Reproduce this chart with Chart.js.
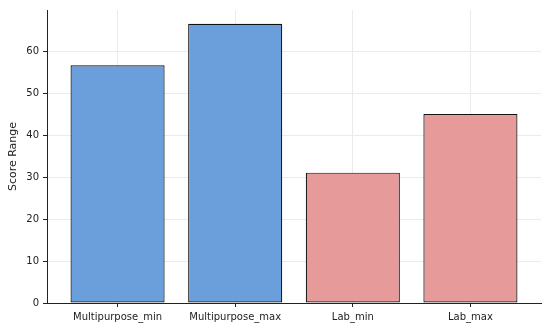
<!DOCTYPE html>
<html>
<head>
<meta charset="utf-8">
<script src="https://cdn.jsdelivr.net/npm/chart.js@4/dist/chart.umd.min.js"></script>
<style>
  html, body { margin: 0; padding: 0; background: #fff; }
  #wrap { width: 550px; height: 329px; }
</style>
</head>
<body>
<div id="wrap"><canvas id="bar-canvas" width="550" height="329"></canvas></div>
<script>
const categories = ["Multipurpose_min", "Multipurpose_max", "Lab_min", "Lab_max"]
const scores = [56.7, 66.6, 31.1, 45.1]
const barColors = ["#6a9fdc", "#6a9fdc", "#e69a9a", "#e69a9a"]
const yTicks = [0, 10, 20, 30, 40, 50, 60]

const points = scores.map((v, i) => ({ x: i, y: v }))
const font = { family: "'DejaVu Sans', sans-serif", size: 10 }

const barCanvas = document.querySelector("#bar-canvas")

const barChart = new Chart(barCanvas, {
    type: "bar",
    data: {
        datasets: [{
            label: "Score Range",
            data: points,
            backgroundColor: barColors,
            borderColor: "#111",
            borderWidth: 1.2,
            borderSkipped: false,
            categoryPercentage: 0.8,
            barPercentage: 1
        }]
    },
    options: {
        responsive: false,
        animation: false,
        layout: { padding: { top: 8, right: 9, left: 7, bottom: 0 } },
        plugins: {
            legend: { display: false },
            tooltip: { enabled: false }
        },
        scales: {
            x: {
                type: "linear",
                min: -0.6,
                max: 3.6,
                offset: false,
                afterBuildTicks: (axis) => {
                    axis.ticks = categories.map((c, i) => ({ value: i }))
                },
                afterFit: (axis) => { axis.height = 26 },
                ticks: {
                    font: font,
                    color: "#222",
                    padding: 4,
                    maxRotation: 0,
                    autoSkip: false,
                    callback: (value) => categories[value]
                },
                grid: {
                    offset: false,
                    color: "#ebebeb",
                    tickColor: "#222",
                    tickLength: 4
                },
                border: { display: true, color: "#222", width: 1 }
            },
            y: {
                min: 0,
                max: 69.9,
                afterBuildTicks: (axis) => {
                    axis.ticks = yTicks.map(v => ({ value: v }))
                },
                afterFit: (axis) => { axis.width = 40 },
                ticks: {
                    font: font,
                    color: "#222",
                    padding: 4
                },
                title: {
                    display: true,
                    text: "Score Range",
                    font: { family: "'DejaVu Sans', sans-serif", size: 11 },
                    color: "#222",
                    padding: { top: 0, bottom: 5 }
                },
                grid: {
                    color: "#ebebeb",
                    tickColor: "#222",
                    tickLength: 4
                },
                border: { display: true, color: "#222", width: 1 }
            }
        }
    }
})
</script>
</body>
</html>
